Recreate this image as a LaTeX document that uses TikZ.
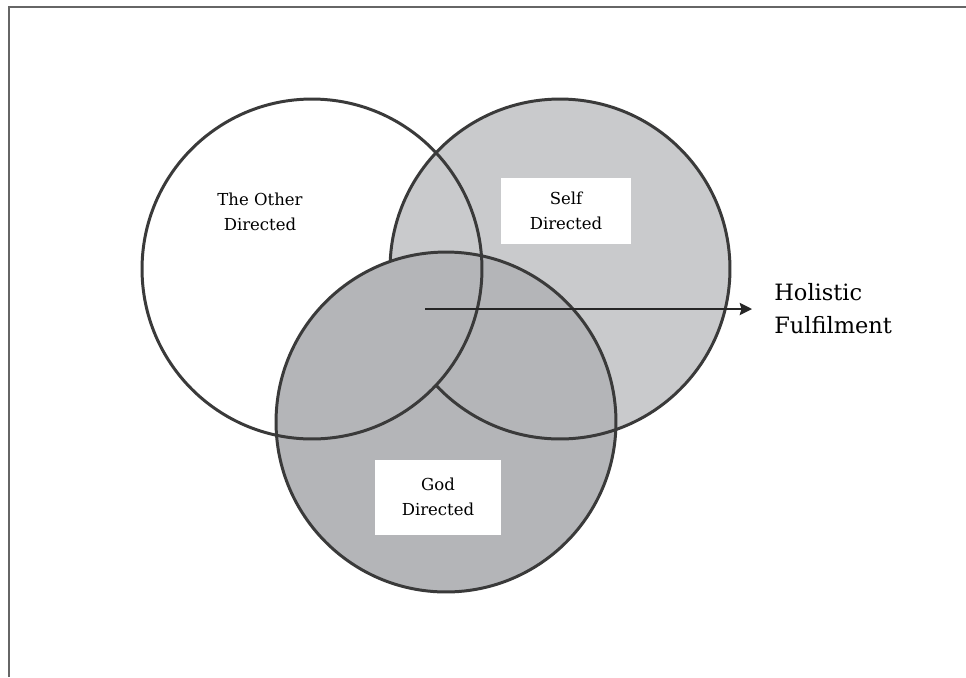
\documentclass[tikz,border=0pt]{standalone}
\usepackage{fontspec}
\setmainfont{DejaVu Serif}
\usetikzlibrary{positioning,arrows.meta}
\usepackage{xcolor}

\definecolor{selfgray}{HTML}{C9CACC}
\definecolor{godgray}{HTML}{B4B5B8}
\definecolor{ringline}{HTML}{3A3A3A}
\definecolor{framegray}{HTML}{666666}

\tikzset{
    ring/.style={draw=ringline, line width=1.7pt},
    labelbox/.style={fill=white, align=center, inner sep=0pt,
        font=\fontsize{9.4}{14.2}\selectfont},
    bigtext/.style={align=left, inner ysep=0pt, inner xsep=0.44cm,
        font=\fontsize{12.8}{18.7}\selectfont}
}

\begin{document}
\begin{tikzpicture}[x=0.02cm, y=-0.02cm]

    \useasboundingbox (0,0) rectangle (966,677);

    %frame
    \draw [framegray, line width=1.4pt] (9,677) -- (9,7) -- (966,7);

    %circle centres
    \coordinate (other) at (312,269);
    \coordinate (self) at (560,269);
    \coordinate (god) at (446,422);
    \coordinate (hub) at (425,309);

    %fills
    \fill [white] (other) circle [radius=3.4cm];
    \fill [selfgray] (self) circle [radius=3.4cm];
    \fill [godgray] (god) circle [radius=3.4cm];
    \draw [ring] (self) circle [radius=3.4cm];
    \begin{scope}
        \clip (other) circle [radius=3.4cm];
        \fill [godgray] (god) circle [radius=3.4cm];
    \end{scope}

    %outlines
    \draw [ring] (other) circle [radius=3.4cm];
    \draw [ring] (god) circle [radius=3.4cm];

    %nodes
    \node [labelbox, fill=none] (otherlbl) at (260,212) {The Other\\Directed};
    \node [labelbox, minimum width=2.6cm, minimum height=1.32cm] (selflbl) at (566,211) {Self\\Directed};
    \node [labelbox, minimum width=2.52cm, minimum height=1.5cm] (godlbl) at (438,497) {God\\Directed};
    \node [bigtext, anchor=west] (fulfil) at (752,309) {Holistic\\Fulfilment};

    \draw [-{Stealth[length=7pt, width=7pt, inset=1pt]}, line width=1.1pt, black!85] (hub) -- (fulfil.west);

\end{tikzpicture}
\end{document}
